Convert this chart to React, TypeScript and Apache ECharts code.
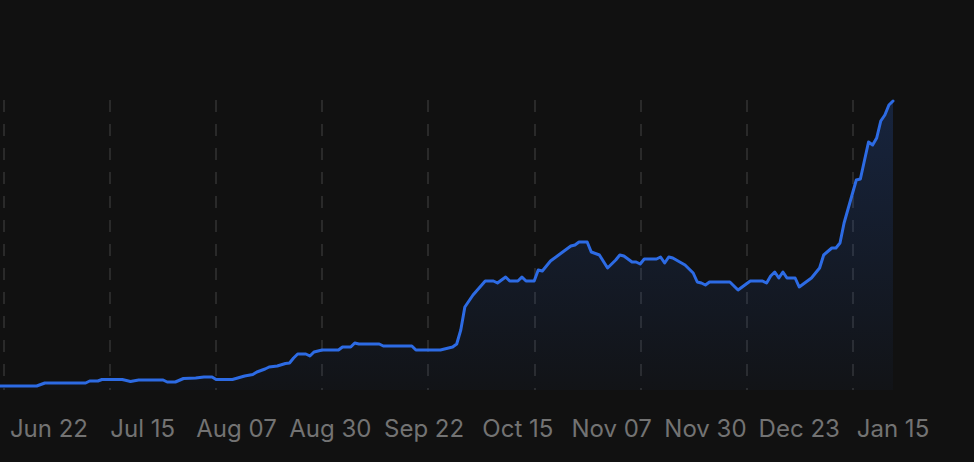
import React, { useEffect, useRef } from "react";
import * as echarts from "echarts";

// x: days since 2023-06-10, y: series value (no visible y scale)
const days = [
  0, 9, 11, 21, 22, 24, 25, 30, 32, 34, 40, 41, 43, 45, 48, 50, 52, 53, 57, 60,
  62, 63, 65, 66, 68, 70, 71, 72, 73, 75, 76, 77, 79, 83, 84, 86, 87, 88, 93, 94,
  101, 102, 108, 110, 111, 112, 113, 114, 116, 119, 121, 122, 124, 125, 127, 128, 129, 131, 132, 133,
  135, 137, 140, 141, 142, 144, 145, 147, 149, 151, 152, 153, 155, 156, 157, 158, 161, 162, 163, 164,
  165, 168, 170, 171, 172, 173, 174, 179, 181, 184, 187, 188, 189, 190, 191, 192, 193, 195, 196, 199,
  201, 202, 204, 205, 206, 207, 210, 211, 213, 214, 215, 216, 217, 218, 219,
];
const values = [
  4, 4, 7, 7, 9, 9, 10.5, 10.5, 8.5, 10, 10, 8, 8, 11.5, 12, 13, 13, 10.5, 10.5, 14,
  15.5, 18, 21, 23, 24, 26.5, 27, 32, 36, 36, 34, 38, 40, 40, 43, 43, 47, 46, 46, 44,
  44, 40, 40, 42, 43, 46, 60, 83, 95, 109, 109, 107, 113, 109, 109, 113, 109, 109, 120, 119,
  129, 135, 144, 145, 148, 148, 138, 135, 122, 130, 135, 134, 128, 128, 126, 131, 131, 133, 127, 133,
  132, 125, 117, 108, 107, 105, 108, 108, 100, 109, 109, 107, 114, 118, 112, 118, 112, 112, 103, 112,
  122, 135, 142, 142, 147, 167, 210, 211, 248, 245, 252, 269, 275, 285, 289,
];
const labelDays = [12, 35, 58, 81, 104, 127, 150, 173, 196, 219];
const tickLabels = [
  "Jun 22", "Jul 15", "Aug 07", "Aug 30", "Sep 22",
  "Oct 15", "Nov 07", "Nov 30", "Dec 23", "Jan 15",
];
const gridSlots = 8; // 9 dashed vertical guide lines

export default function App() {
  const ref = useRef<HTMLDivElement>(null);
  useEffect(() => {
    document.body.style.margin = "0";
    document.body.style.background = "#111111";
    const chart = echarts.init(ref.current!, null, { renderer: "svg" });
    chart.setOption({
      animation: false,
      backgroundColor: "#111111",
      grid: [
        { left: 0, width: 893, top: 100, height: 290 },
        { left: 3.3, width: 849.6, top: 100, height: 290 },
      ],
      xAxis: [
        {
          type: "value",
          gridIndex: 0,
          min: 0,
          max: 219,
          splitLine: { show: false },
          axisLine: { show: false },
          axisTick: { show: false },
          axisLabel: {
            customValues: labelDays,
            formatter: (v: number) => tickLabels[labelDays.indexOf(Math.round(v))] ?? "",
            color: "#737373",
            fontSize: 24,
            fontFamily: "Inter",
            margin: 26,
          },
        },
        {
          type: "value",
          gridIndex: 1,
          min: 0,
          max: gridSlots,
          interval: 1,
          axisLine: { show: false },
          axisTick: { show: false },
          axisLabel: { show: false },
          splitLine: {
            show: true,
            lineStyle: { color: "#333333", width: 1.5, type: [12, 12] },
          },
        },
      ],
      yAxis: [
        { type: "value", gridIndex: 0, min: 0, max: 290, show: false },
        { type: "value", gridIndex: 1, min: 0, max: 1, show: false },
      ],
      series: [
        {
          type: "line",
          xAxisIndex: 0,
          yAxisIndex: 0,
          data: days.map((d, i) => [d, values[i]]),
          showSymbol: false,
          symbol: "none",
          smooth: false,
          lineStyle: { color: "#2d6be4", width: 3, join: "round", cap: "round" },
          areaStyle: {
            color: {
              type: "linear",
              x: 0,
              y: 0,
              x2: 0,
              y2: 1,
              colorStops: [
                { offset: 0, color: "rgba(45,107,228,0.30)" },
                { offset: 1, color: "rgba(45,107,228,0.04)" },
              ],
            },
          },
        },
      ],
    });
    return () => chart.dispose();
  }, []);
  return <div ref={ref} style={{ width: 974, height: 462 }} />;
}
